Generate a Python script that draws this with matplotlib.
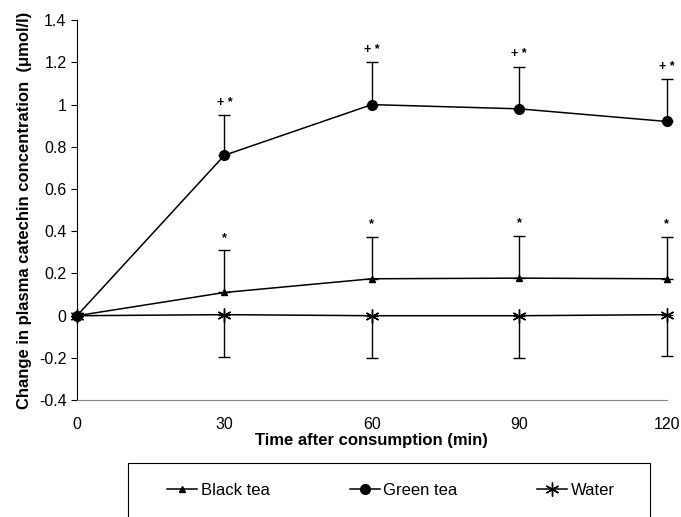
import matplotlib.pyplot as plt
from matplotlib.lines import Line2D
from matplotlib.patches import Rectangle
import numpy as np

plt.rcParams['font.family'] = ['Liberation Sans', 'DejaVu Sans']

# data
time = [0, 30, 60, 90, 120]
black_tea = [0, 0.11, 0.175, 0.178, 0.175]
black_err = [0, 0.20, 0.20, 0.20, 0.20]
green_tea = [0, 0.76, 1.00, 0.98, 0.92]
green_err = [0, 0.19, 0.20, 0.20, 0.20]
water = [0, 0.005, 0.0, 0.0, 0.005]
water_err = [0, 0.20, 0.20, 0.20, 0.195]
green_marks = ['', '+ *', '+ *', '+ *', '+ *']
black_marks = ['', '*', '*', '*', '*']
series_names = ['Black tea', 'Green tea', 'Water']
series_markers = ['^', 'o', (6, 2, 0)]
series_ms = [5, 7, 10]

fig = plt.figure(figsize=(6.81, 5.17), dpi=100)
ax = fig.add_axes([0.113, 0.226, 0.866, 0.735])

zeros = [0] * len(time)
ax.errorbar(time, black_tea, yerr=[zeros, black_err], color='black', lw=1.1,
            marker=series_markers[0], ms=series_ms[0], capsize=4, elinewidth=1, capthick=1)
ax.errorbar(time, green_tea, yerr=[zeros, green_err], color='black', lw=1.1,
            marker=series_markers[1], ms=series_ms[1], capsize=4, elinewidth=1, capthick=1)
ax.errorbar(time, water, yerr=[water_err, zeros], color='black', lw=1.1,
            marker=series_markers[2], ms=series_ms[2], mew=1, capsize=4, elinewidth=1, capthick=1)

for t, v, e, m in zip(time, green_tea, green_err, green_marks):
    if m:
        ax.text(t, v + e + 0.03, m, ha='center', va='bottom', fontsize=9, fontweight='bold')
for t, v, e, m in zip(time, black_tea, black_err, black_marks):
    if m:
        ax.text(t, v + e + 0.03, m, ha='center', va='bottom', fontsize=9, fontweight='bold')

ax.set_xlim(0, 120)
ax.set_ylim(-0.4, 1.4)
ax.set_xticks(time)
ax.set_xticklabels(['0', '30', '60', '90', '120'])
ax.set_yticks(np.arange(-0.4, 1.41, 0.2))
ax.set_yticklabels(['-0.4', '-0.2', '0', '0.2', '0.4', '0.6', '0.8', '1', '1.2', '1.4'])
ax.tick_params(axis='x', length=0, pad=12, labelsize=11.5)
ax.tick_params(axis='y', length=4, labelsize=11.5, direction='out')
ax.spines['top'].set_visible(False)
ax.spines['right'].set_visible(False)
ax.spines['bottom'].set_color('#888888')
for child in ax.get_children():
    if hasattr(child, 'set_clip_on') and child not in ax.spines.values():
        child.set_clip_on(False)

ax.set_xlabel('Time after consumption (min)', fontweight='bold', fontsize=12, labelpad=1)
ax.set_ylabel('Change in plasma catechin concentration  (\u03bcmol/l)', fontweight='bold',
              fontsize=12, labelpad=5)

# legend box runs off the bottom of the figure, as in the original
fig.patches.append(Rectangle((0.188, -0.05), 0.767, 0.154, transform=fig.transFigure,
                             fill=False, edgecolor='black', lw=0.8))
handles = [Line2D([], [], color='black', lw=1.1, marker=m, ms=s, mew=1)
           for m, s in zip(series_markers, series_ms)]
fig.legend(handles, series_names, loc='center', bbox_to_anchor=(0.574, 0.052),
           ncol=3, fontsize=12, frameon=False, handlelength=1.8, handletextpad=0.2,
           columnspacing=4.8)

fig.savefig('out.png', dpi=100)
